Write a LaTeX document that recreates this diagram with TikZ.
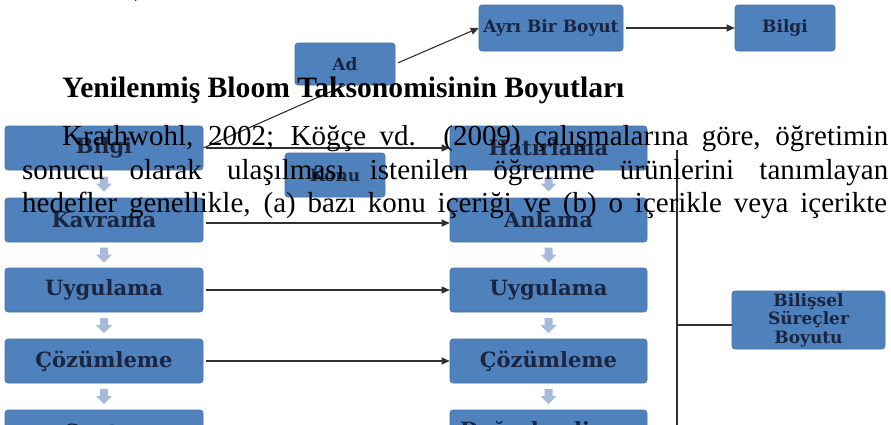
\documentclass[tikz,border=0pt]{standalone}
\usepackage{fontspec}
\setmainfont{Liberation Serif}
\newfontfamily\boxfont{DejaVu Serif}
\usetikzlibrary{calc,arrows.meta}
\definecolor{boxblue}{HTML}{4F81BD}
\definecolor{boxline}{HTML}{4472A8}
\definecolor{boxtext}{HTML}{1B2540}
\definecolor{arrcol}{HTML}{A7BADB}
\definecolor{linecol}{HTML}{303030}
\begin{document}
\begin{tikzpicture}[x=1pt,y=-1pt,
  box/.style={draw=boxline, line width=0.6pt, fill=boxblue, rounded corners=3pt, inner sep=0pt,
    text=boxtext, align=center, font=\boxfont\bfseries\fontsize{21}{23}\selectfont},
  mainL/.style={box, minimum width=198pt, minimum height=44pt},
  mainR/.style={box, minimum width=197pt, minimum height=44pt},
  smallbox/.style={box, font=\boxfont\bfseries\fontsize{17}{18.5}\selectfont},
  conn/.style={draw=linecol, line width=1.1pt},
  arr/.style={conn, -{Triangle[length=8pt,width=7pt]}, shorten <=3pt},
  bodytext/.style={anchor=base west, inner sep=0pt, text=black, font=\fontsize{29}{34}\selectfont},
  downarr/.pic={\fill[arrcol] (-4,-7.5) -- (4,-7.5) -- (4,-0.5) -- (8,-0.5) -- (0,7.5) -- (-8,-0.5) -- (-4,-0.5) -- cycle;}
]
\useasboundingbox (0,0) rectangle (891,424);
\clip (0,0) rectangle (891,424);
\fill[white] (0,0) rectangle (891,424);

% top boxes
\node[smallbox, minimum width=144pt, minimum height=46pt] (AB) at (551,28) {Ayrı Bir Boyut};
\node[smallbox, minimum width=100pt, minimum height=46pt] (BT) at (785,28) {Bilgi};
\node[smallbox, minimum width=100pt, minimum height=42pt] (AD) at (345,64) {Ad};
\node[smallbox, minimum width=100pt, minimum height=44pt] (KO) at (335,175) {Konu};
\node[smallbox, minimum width=153pt, minimum height=58pt] (BS) at (808.5,320) {Bilişsel\\Süreçler\\Boyutu};

% left column
\node[mainL] (L1) at (104,148) {Bilgi};
\node[mainL] (L2) at (104,220) {Kavrama};
\node[mainL] (L3) at (104,290) {Uygulama};
\node[mainL] (L4) at (104,361) {Çözümleme};
\node[mainL] (L5) at (104,432) {Sentez};

% right column
\node[mainR] (R1) at (548.5,148) {Hatırlama};
\node[mainR] (R2) at (548.5,220) {Anlama};
\node[mainR] (R3) at (548.5,290) {Uygulama};
\node[mainR] (R4) at (548.5,361) {Çözümleme};
\node[mainR] (R5) at (548.5,432) {Değerlendirme};

% down arrows
\foreach \a/\b in {L1/L2,L2/L3,L3/L4,L4/L5,R1/R2,R2/R3,R3/R4,R4/R5}
  \pic at ($(\a.south)!0.5!(\b.north)$) {downarr};

% connectors
\draw[arr] (AD.east) -- (AB.west);
\draw[arr] (AB.east) -- (BT.west);
\draw[conn] (L1.east) -- (AD.south);
\draw[arr] (L1.east) -- (R1.west);
\draw[arr] ([yshift=-3pt]L2.east) -- ([yshift=-3pt]R2.west);
\draw[arr] (L3.east) -- (R3.west);
\draw[arr] (L4.east) -- (R4.west);

% bracket
\coordinate (bt) at (677,150);
\coordinate (bb) at (677,430);
\coordinate (bm) at (677,325);
\draw[conn] (bt) -- (bb);
\draw[conn] (bm) -- (bm -| BS.west);

% overlaid text
\node[bodytext] (frag) at (134,-5) {)};
\node[bodytext, font=\bfseries\fontsize{29.6}{34}\selectfont] (head) at (62,97)
  {Yenilenmiş Bloom Taksonomisinin Boyutları};
\node[bodytext] (t1) at (62,145) {\makebox[826pt][s]{Krathwohl, 2002; Köğçe vd. (2009) çalışmalarına göre, öğretimin}};
\node[bodytext] (t2) at (22,179) {\makebox[866pt][s]{sonucu olarak ulaşılması istenilen öğrenme ürünlerini tanımlayan}};
\node[bodytext] (t3) at (22,212) {\makebox[865pt][s]{hedefler genellikle, (a) bazı konu içeriği ve (b) o içerikle veya içerikte}};
\end{tikzpicture}
\end{document}
